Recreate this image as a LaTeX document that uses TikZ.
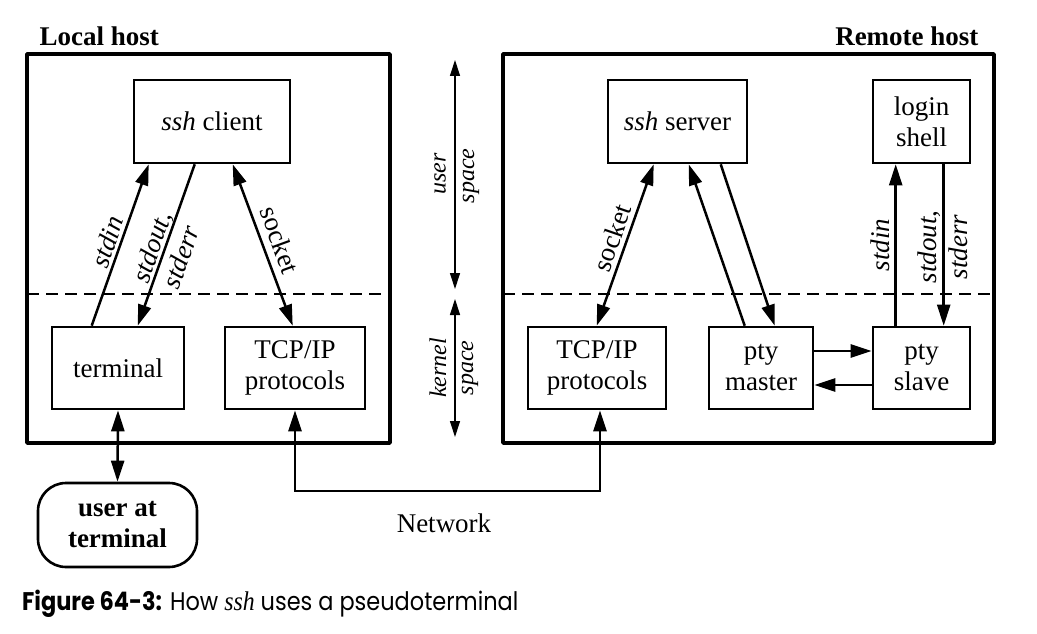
\documentclass[tikz,border=0pt]{standalone}
\usepackage{fontspec}
\setmainfont{Liberation Serif}
\newfontfamily\capfont{Poppins}
\usetikzlibrary{arrows.meta,calc}
\begin{document}
\begin{tikzpicture}[x=1pt,y=-1pt,
  every node/.style={font=\fontsize{27}{31}\selectfont},
  box/.style={draw, line width=2.6pt, inner sep=0pt, align=center},
  host/.style={draw, line width=3.6pt, line join=round},
  sep/.style={line width=2.4pt, dash pattern=on 12pt off 7pt},
  tip/.tip={Triangle[length=21pt,width=13pt]},
  arr/.style={line width=2.5pt, -tip},
  darr/.style={line width=2.5pt, tip-tip},
  thinarr/.style={line width=1.2pt, {Triangle[length=16pt,width=10pt]}-{Triangle[length=16pt,width=10pt]}},
  lbl/.style={font=\fontsize{27}{31}\selectfont\itshape, inner sep=0pt, align=center},
  spc/.style={font=\fontsize{24}{28}\selectfont\itshape, inner sep=0pt, rotate=90}
]
\useasboundingbox (0,0) rectangle (1037,634);

% host boxes
\draw[host] (27,54) rectangle (390,443);
\draw[host] (503,54) rectangle (994,443);
\draw[sep] (27,294) -- (390,294);
\draw[sep] (503,294) -- (994,294);

\node[font=\fontsize{27}{31}\selectfont\bfseries, anchor=west] (lh) at (36,36) {Local host};
\node[font=\fontsize{27}{31}\selectfont\bfseries, anchor=east] (rh) at (982,36) {Remote host};

% local nodes
\node[box, minimum width=156pt, minimum height=83pt] (sshc) at (212,121.5) {\textit{ssh} client};
\node[box, minimum width=132pt, minimum height=82pt] (term) at (118,368) {terminal};
\node[box, minimum width=140pt, minimum height=82pt] (tcpl) at (295,368) {TCP/IP\\protocols};
\node[box, rounded corners=28pt, minimum width=159pt, minimum height=84pt, font=\fontsize{27}{31}\selectfont\bfseries] (user) at (117.5,525) {user at\\terminal};

% remote nodes
\node[box, minimum width=139pt, minimum height=83pt] (sshs) at (677.5,121.5) {\textit{ssh} server};
\node[box, minimum width=97pt, minimum height=83pt] (login) at (921.5,121.5) {login\\shell};
\node[box, minimum width=138pt, minimum height=82pt] (tcpr) at (597,368) {TCP/IP\\protocols};
\node[box, minimum width=104pt, minimum height=82pt] (ptym) at (761,368) {pty\\master};
\node[box, minimum width=97pt, minimum height=82pt] (ptys) at (921.5,368) {pty\\slave};

% local connectors
\draw[arr] ($(term.north west)+(41,0)$) -- ($(sshc.south west)+(16,0)$);
\draw[arr] ($(sshc.south west)+(62,0)$) -- ($(term.north west)+(87,0)$);
\draw[darr] ($(sshc.south west)+(100,0)$) -- ($(tcpl.north west)+(69,0)$);
\draw[darr] (term.south) -- (user.north);
\coordinate (net) at (445,491);
\draw[darr] (tcpl.south) |- (net) -| ($(tcpr.south)+(3,0)$);

% remote connectors
\draw[darr] ($(sshs.south west)+(47,0)$) -- ($(tcpr.north west)+(70,0)$);
\draw[arr] ($(ptym.north west)+(37,0)$) -- ($(sshs.south west)+(82,0)$);
\draw[arr] ($(sshs.south west)+(114,0)$) -- ($(ptym.north west)+(67,0)$);
\draw[arr] ($(ptys.north west)+(24,0)$) -- ($(login.south west)+(24,0)$);
\draw[arr] ($(login.south west)+(72,0)$) -- ($(ptys.north west)+(72,0)$);
\draw[arr] ($(ptym.east)+(0,-17)$) -- ($(ptys.west)+(0,-17)$);
\draw[arr] ($(ptys.west)+(0,17)$) -- ($(ptym.east)+(0,17)$);

% labels
\node[lbl, rotate=71] (lstdin) at (107,242) {stdin};
\node[lbl, rotate=71] (lstdout) at (166,252) {stdout,\\stderr};
\node[lbl, rotate=-70, font=\fontsize{27}{31}\selectfont] (lsock) at (280,240) {socket};
\node[lbl, rotate=71, font=\fontsize{27}{31}\selectfont] (rsock) at (612,238) {socket};
\node[lbl, rotate=90] (rstdin) at (880,245) {stdin};
\node[lbl, rotate=90] (rstdout) at (943,247) {stdout,\\stderr};
\node (netl) at (444,523) {Network};

% user / kernel space
\coordinate (ua) at (455,60);
\coordinate (ub) at (455,289);
\coordinate (ka) at (455,299);
\coordinate (kb) at (455,437);
\draw[thinarr] (ua) -- (ub);
\draw[thinarr] (ka) -- (kb);
\node[spc] (u1) at (440,174) {user};
\node[spc] (u2) at (471,176) {space};
\node[spc] (k1) at (438,368) {kernel};
\node[spc] (k2) at (470,368) {space};

% caption
\node[anchor=base west, inner sep=0pt] (cap) at (22,610) {\scalebox{0.88}[1]{\capfont\fontsize{25.5}{29}\selectfont\textbf{Figure 64-3:} How {\rmfamily\itshape\fontsize{27}{29}\selectfont ssh} uses a pseudoterminal}};
\end{tikzpicture}
\end{document}
